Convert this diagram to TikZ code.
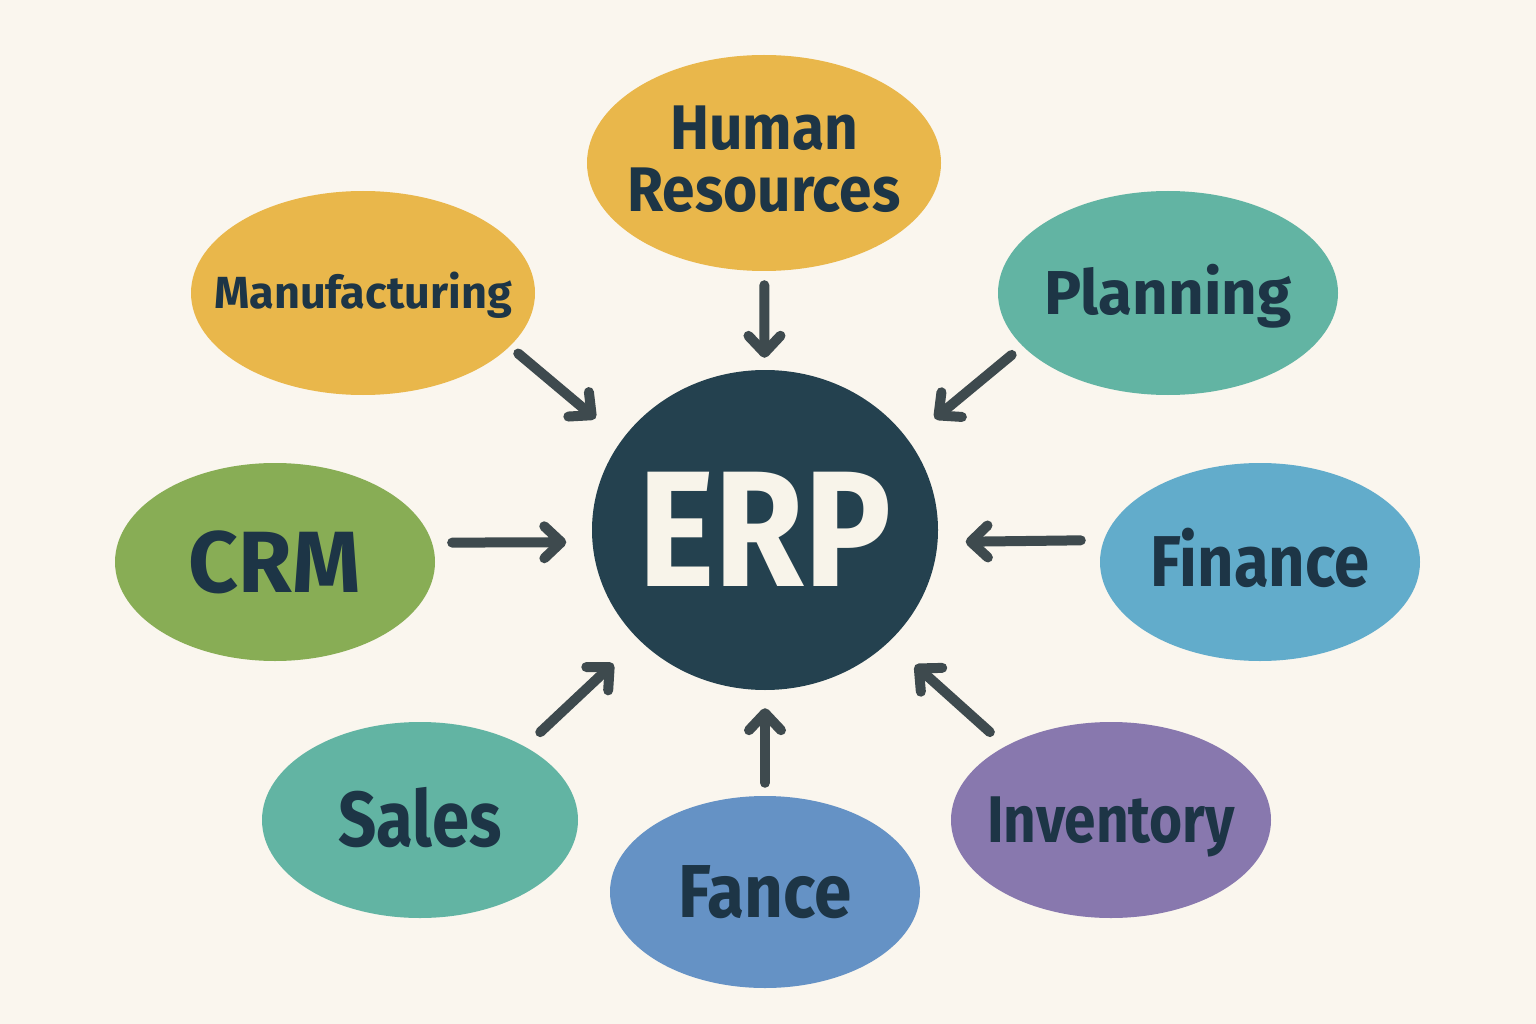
\documentclass[tikz,border=0pt]{standalone}
\usepackage{fontspec}
\setmainfont{Fira Sans}
\usetikzlibrary{shapes.geometric,arrows.meta}

\definecolor{clrBack}{HTML}{FAF6EE}
\definecolor{clrCore}{HTML}{24414F}
\definecolor{clrCoreText}{HTML}{F8F4EA}
\definecolor{clrText}{HTML}{1D3546}
\definecolor{clrArrow}{HTML}{3E4A4E}
\definecolor{clrGold}{HTML}{E9B74B}
\definecolor{clrTeal}{HTML}{62B4A3}
\definecolor{clrGreen}{HTML}{88AD55}
\definecolor{clrSky}{HTML}{62ACCB}
\definecolor{clrBlue}{HTML}{6592C5}
\definecolor{clrViolet}{HTML}{8878AE}

\tikzstyle{module}=[ellipse, inner sep=0pt, text=clrText, font=\bfseries]
\tikzstyle{core}=[module, fill=clrCore, text=clrCoreText]
\tikzstyle{myarrow}=[-{Straight Barb[round,length=17pt,width=32pt]}, draw=clrArrow,
line width=10pt, line cap=round, line join=round]

% centred label: cap height centred on the node, no influence on the ellipse size
\newcommand{\lbl}[3][1]{\smash{\makebox[0pt]{\fontsize{#2}{#2}\selectfont\raisebox{-.345em}{\scalebox{#1}[1]{#3}}}}}

\begin{document}
\begin{tikzpicture}[x=1pt,y=-1pt]
	\fill[clrBack] (0,0) rectangle (1536,1024) ;

	\node[core, minimum width=346pt, minimum height=320pt] (erp) at (765,530) {\lbl[.88]{165}{ERP}} ;

	\node[module, fill=clrGold, minimum width=354pt, minimum height=216pt] (hr) at (764,163)
		{\smash{\makebox[0pt]{\fontsize{63}{62}\selectfont\raisebox{-49pt}{\scalebox{.93}[1]{\begin{tabular}[b]{@{}c@{}}Human\\Resources\end{tabular}}}}}} ;
	\node[module, fill=clrGold, minimum width=344pt, minimum height=204pt] (mfg) at (363,293) {\lbl{45}{Manufacturing}} ;
	\node[module, fill=clrTeal, minimum width=340pt, minimum height=204pt] (plan) at (1168,293) {\lbl{62}{Planning}} ;
	\node[module, fill=clrGreen, minimum width=320pt, minimum height=198pt] (crm) at (275,562) {\lbl{87}{CRM}} ;
	\node[module, fill=clrSky, minimum width=320pt, minimum height=198pt] (fin) at (1260,562) {\lbl[.88]{72}{Finance}} ;
	\node[module, fill=clrTeal, minimum width=316pt, minimum height=196pt] (sales) at (420,820) {\lbl[.86]{78}{Sales}} ;
	\node[module, fill=clrBlue, minimum width=310pt, minimum height=192pt] (fance) at (765,892) {\lbl[.9]{75}{Fance}} ;
	\node[module, fill=clrViolet, minimum width=320pt, minimum height=196pt] (inv) at (1111,820) {\lbl[.86]{66}{Inventory}} ;

	\draw[myarrow, shorten <=14pt, shorten >=12pt] (hr) -- (erp) ;
	\draw[myarrow, shorten <=11pt, shorten >=34pt] (mfg.-20) -- (erp.148) ;
	\draw[myarrow, shorten <=14pt, shorten >=34pt] (plan.200) -- (erp.32) ;
	\draw[myarrow, shorten <=20pt, shorten >=26pt] (crm.7.3) -- (erp.184) ;
	\draw[myarrow, shorten <=23pt, shorten >=28pt] (fin.172.7) -- (erp.-4) ;
	\draw[myarrow, shorten <=21pt, shorten >=35pt] (sales.35) -- (erp.221.6) ;
	\draw[myarrow, shorten <=21pt, shorten >=35pt] (inv.145) -- (erp.318.4) ;
	\draw[myarrow, shorten <=13pt, shorten >=18pt] (fance) -- (erp) ;
\end{tikzpicture}
\end{document}
